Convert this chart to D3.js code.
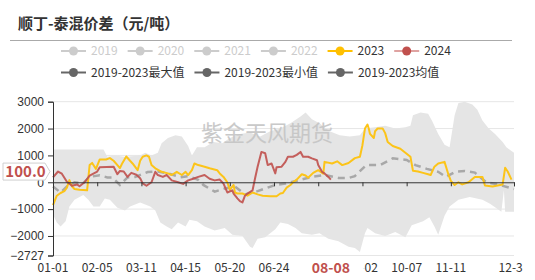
<!DOCTYPE html>
<html>
<head>
<meta charset="utf-8">
<script src="https://cdn.jsdelivr.net/npm/d3@7"></script>
<style>
  body { margin: 0; background: #fff; }
  svg { display: block; font-family: "Noto Sans CJK SC", "Noto Sans", sans-serif; }
</style>
</head>
<body>
<svg id="chart" width="523" height="280"></svg>
<script>
// categories: every day of a (leap) year, shown as MM-DD
const dates = d3.timeDays(new Date(2024, 0, 1), new Date(2025, 0, 1)).map(d3.timeFormat("%m-%d"));
const xTicks = ["02-05","03-11","04-15","05-20","06-24","07-29","09-02","10-07","11-11","12-31"];
const xLabels = ["01-01","02-05","03-11","04-15","05-20","06-24","09-02","10-07","11-11","12-31"];
const yTicks = [3000, 2000, 1000, 0, -1000, -2000, -2727];
const legendRow1 = ["2019","2020","2021","2022","2023","2024"];
const legendRow2 = ["2019-2023最大值","2019-2023最小值","2019-2023均值"];
const currentDate = "08-08";
const currentValue = 100;

// series
const s2024 = [["01-01",180],["01-05",400],["01-08",320],["01-12",20],["01-16",-130],["01-20",-80],["01-22",-150],["01-26",0],["01-30",250],["02-05",400],["02-07",560],["02-18",580],["02-21",300],["02-23",420],["02-26",400],["02-29",200],["03-03",350],["03-07",280],["03-10",150],["03-12",-40],["03-15",-130],["03-19",0],["03-22",390],["03-24",270],["03-28",200],["03-31",270],["04-04",70],["04-09",0],["04-13",-60],["04-17",70],["04-21",130],["04-25",200],["04-30",270],["05-04",130],["05-08",70],["05-12",100],["05-15",-50],["05-18",-380],["05-22",-300],["05-23",-420],["05-26",-600],["05-28",-700],["05-30",-750],["06-01",-500],["06-03",-420],["06-07",-300],["06-09",150],["06-11",580],["06-14",1130],["06-17",1080],["06-19",640],["06-22",700],["06-25",330],["06-26",560],["06-30",580],["07-03",760],["07-05",950],["07-09",950],["07-12",1020],["07-15",1130],["07-17",950],["07-21",950],["07-24",890],["07-28",820],["07-29",640],["08-01",390],["08-03",330],["08-06",200],["08-08",100]];

const s2023 = [["01-01",-850],["01-04",-500],["01-07",-400],["01-10",-330],["01-12",-200],["01-14",80],["01-16",-150],["01-18",-250],["01-22",-280],["01-28",-300],["01-30",640],["02-01",720],["02-04",500],["02-07",850],["02-12",850],["02-15",900],["02-18",800],["02-21",640],["02-23",530],["02-25",720],["02-28",960],["03-02",800],["03-04",700],["03-08",450],["03-10",800],["03-12",950],["03-15",1000],["03-17",950],["03-19",640],["03-22",520],["03-27",390],["04-01",330],["04-04",270],["04-08",390],["04-12",270],["04-15",390],["04-17",270],["04-20",450],["04-22",700],["04-25",640],["04-30",580],["05-04",520],["05-10",450],["05-12",330],["05-15",200],["05-18",0],["05-20",-280],["05-23",-100],["05-24",-380],["05-26",-420],["05-30",-420],["06-03",-500],["06-07",-380],["06-11",-450],["06-15",-500],["06-21",-520],["06-26",-520],["06-29",-420],["07-01",-400],["07-04",-200],["07-07",-100],["07-09",0],["07-12",100],["07-16",300],["07-19",250],["07-21",170],["07-25",350],["07-29",450],["08-02",320],["08-03",760],["08-09",700],["08-13",780],["08-17",640],["08-22",720],["08-27",900],["08-31",950],["09-02",1380],["09-04",2000],["09-06",2150],["09-07",2000],["09-08",1800],["09-11",1650],["09-12",1900],["09-14",2000],["09-18",2000],["09-20",1830],["09-22",1500],["09-26",1350],["10-02",1250],["10-10",950],["10-12",430],["10-16",400],["10-20",350],["10-24",300],["10-26",270],["10-29",580],["11-01",700],["11-06",760],["11-09",300],["11-11",50],["11-14",-100],["11-17",0],["11-20",-80],["11-25",0],["11-30",200],["12-06",200],["12-08",-120],["12-14",-160],["12-22",-80],["12-24",540],["12-26",400],["12-29",100]];

const sMean = [["01-01",-160],["01-07",-380],["01-12",-160],["01-18",0],["01-25",-30],["01-30",200],["02-07",260],["02-13",180],["02-17",180],["02-23",-100],["02-29",180],["03-06",200],["03-16",380],["03-24",400],["04-01",330],["04-11",190],["04-17",230],["04-25",90],["04-29",-100],["05-08",-350],["05-16",-230],["05-24",-160],["06-01",-450],["06-11",-330],["06-25",-100],["07-03",-50],["07-15",90],["07-24",200],["08-03",270],["08-14",160],["08-22",160],["08-27",230],["09-05",640],["09-16",640],["09-26",890],["10-07",830],["10-14",640],["10-23",500],["11-01",390],["11-07",200],["11-15",400],["11-22",420],["11-30",360],["12-09",0],["12-18",-80],["12-31",-250]];

const sMax = [["01-01",1220],["02-10",1220],["02-13",950],["02-19",1000],["02-27",950],["03-10",1000],["03-14",1100],["03-19",1000],["03-24",1100],["03-27",1450],["04-01",1650],["04-07",1750],["04-12",1700],["04-17",1350],["04-20",1000],["04-24",1300],["04-30",1300],["05-07",1500],["05-14",1450],["05-20",1650],["05-28",1800],["06-05",1850],["06-13",1700],["06-21",1900],["06-29",2000],["07-07",2200],["07-15",2450],["07-19",2600],["07-24",2350],["07-30",2200],["08-07",1900],["08-15",1750],["08-23",1700],["08-31",1750],["09-04",2000],["09-12",2050],["09-20",2100],["09-28",2000],["10-06",2050],["10-10",2100],["10-12",2500],["10-18",2600],["10-24",2550],["10-27",2300],["11-01",1800],["11-06",1400],["11-10",1300],["11-14",2500],["11-17",2950],["11-22",3000],["11-28",2900],["12-02",2700],["12-06",2300],["12-11",2000],["12-16",1800],["12-22",1500],["12-25",1300],["12-31",1100]];

const sMin = [["01-01",-1200],["01-04",-1500],["01-07",-1650],["01-11",-1450],["01-14",-900],["01-18",-650],["01-25",-470],["01-29",-650],["02-02",-900],["02-07",-900],["02-11",-600],["02-15",-650],["02-21",-950],["02-27",-1050],["03-02",-900],["03-10",-750],["03-18",-900],["03-22",-1050],["03-26",-1500],["03-31",-1650],["04-04",-1750],["04-09",-1500],["04-15",-1650],["04-18",-1400],["04-24",-1450],["04-30",-1650],["05-08",-1800],["05-16",-1700],["05-22",-1950],["05-30",-2000],["06-05",-2400],["06-07",-2450],["06-11",-2100],["06-17",-2050],["06-25",-1750],["06-29",-1500],["07-05",-1550],["07-11",-1700],["07-16",-1900],["07-24",-1950],["07-30",-1900],["08-06",-2100],["08-14",-2200],["08-22",-2400],["08-27",-2450],["08-31",-2600],["09-04",-1900],["09-06",-1700],["09-12",-1900],["09-20",-2000],["09-28",-1850],["10-06",-2050],["10-11",-1600],["10-20",-1450],["10-25",-1300],["10-29",-1650],["11-01",-1950],["11-06",-1250],["11-10",-900],["11-17",-650],["11-26",-550],["12-06",-650],["12-12",-800],["12-18",-1000],["12-21",-1100],["12-23",-300],["12-24",-1100],["12-31",-1100]];

const svg = d3.select("#chart");
const x = d3.scalePoint().domain(dates).range([53, 514]);
const y = d3.scaleLinear().domain([-2727, 3000]).range([255.5, 101.7]);

// title
svg.append("text")
  .attr("x", 18).attr("y", 29)
  .attr("font-size", 15).attr("font-weight", "bold").attr("fill", "#333")
  .text("顺丁-泰混价差（元/吨）");
svg.append("line")
  .attr("x1", 10).attr("x2", 512).attr("y1", 40.5).attr("y2", 40.5)
  .attr("stroke", "#aaa");

// legend
const grey = "#ccc";
const row1Sym = [grey, grey, grey, grey, "#ffc000", "#c0504d"];
const row1Line = [grey, grey, grey, grey, "#ffc000", "#dfa3a1"];
const row1Txt = [grey, grey, grey, grey, "#333", "#333"];
function legendRow(names, symCol, lineCol, txtCol, ly) {
  let lx = 61;
  names.forEach((n, i) => {
    const g = svg.append("g").attr("transform", `translate(${lx},${ly})`);
    g.append("line").attr("x1", 0).attr("x2", 25).attr("stroke", lineCol[i]).attr("stroke-width", 2);
    g.append("circle").attr("cx", 12.5).attr("r", 4.5).attr("fill", symCol[i]);
    const t = g.append("text").attr("x", 30).attr("dy", "0.35em")
      .attr("font-size", 12).attr("fill", txtCol[i]).text(n);
    lx += 30 + t.node().getComputedTextLength() + 10;
  });
}
legendRow(legendRow1, row1Sym, row1Line, row1Txt, 51);
legendRow(legendRow2, ["#666","#666","#666"], ["#666","#666","#666"], ["#333","#333","#333"], 72.5);

// grid
svg.append("g").selectAll("line")
  .data(yTicks.filter(d => d !== 0)).join("line")
  .attr("x1", 53).attr("x2", 514)
  .attr("y1", d => y(d)).attr("y2", d => y(d))
  .attr("stroke", "#e6e6e6");

// min/max band
const band = d3.area().x(d => x(d[0])).y0(y(0)).y1(d => y(d[1]));
svg.append("path").datum(sMax).attr("d", band).attr("fill", "#e5e5e5");
svg.append("path").datum(sMin).attr("d", band).attr("fill", "#e5e5e5");

// watermark
svg.append("text")
  .attr("x", 267).attr("y", 133).attr("dy", "0.35em")
  .attr("text-anchor", "middle").attr("font-size", 22)
  .attr("fill", "#c4c4c4").attr("opacity", 0.9)
  .text("紫金天风期货");

const line = d3.line().x(d => x(d[0])).y(d => y(d[1]));
svg.append("path").datum(sMean).attr("d", line)
  .attr("fill", "none").attr("stroke", "#a8a8a8").attr("stroke-width", 2.5)
  .attr("stroke-dasharray", "7,5");
svg.append("path").datum(s2023).attr("d", line)
  .attr("fill", "none").attr("stroke", "#fcc419").attr("stroke-width", 2)
  .attr("stroke-linejoin", "round");
svg.append("path").datum(s2024).attr("d", line)
  .attr("fill", "none").attr("stroke", "#c0504d").attr("stroke-width", 2)
  .attr("stroke-opacity", 0.9).attr("stroke-linejoin", "round");

// y axis
const yAxis = svg.append("g").attr("transform", "translate(53,0)")
  .call(d3.axisLeft(y).tickValues(yTicks).tickSize(5).tickPadding(4).tickFormat(d3.format("d")));
yAxis.select(".domain").attr("stroke", "#333");
yAxis.selectAll(".tick line").attr("stroke", "#333");
yAxis.selectAll("text").attr("font-size", 12).attr("fill", "#333").attr("font-family", null);

// x axis on zero, labels at the bottom
const xAxis = svg.append("g").attr("transform", `translate(0,${y(0)})`)
  .call(d3.axisBottom(x).tickValues(xTicks).tickSize(4).tickFormat(""));
xAxis.select(".domain").attr("stroke", "#333");
xAxis.selectAll(".tick line").attr("stroke", "#333");

svg.append("g").selectAll("text")
  .data(xLabels).join("text")
  .attr("x", d => x(d)).attr("y", 268).attr("dy", "0.35em")
  .attr("text-anchor", "middle").attr("font-size", 12).attr("fill", "#333")
  .text(d => d);

// pointer labels
const px = x(currentDate);
svg.append("rect").attr("x", px - 33).attr("y", 259).attr("width", 66).attr("height", 19).attr("fill", "#fff");
svg.append("text")
  .attr("x", px).attr("y", 268).attr("dy", "0.35em")
  .attr("text-anchor", "middle").attr("font-size", 14).attr("font-weight", "bold").attr("fill", "#c0504d")
  .text(currentDate);

const py = y(currentValue) - 8;
svg.append("path")
  .attr("d", `M3,${py - 8.5}H45L50,${py}L45,${py + 8.5}H3Z`)
  .attr("fill", "#fff").attr("stroke", "#d0d0d0");
svg.append("text")
  .attr("x", 25.5).attr("y", py).attr("dy", "0.35em")
  .attr("text-anchor", "middle").attr("font-size", 15).attr("font-weight", "bold").attr("fill", "#c0504d")
  .text(d3.format(".1f")(currentValue));
</script>
</body>
</html>
